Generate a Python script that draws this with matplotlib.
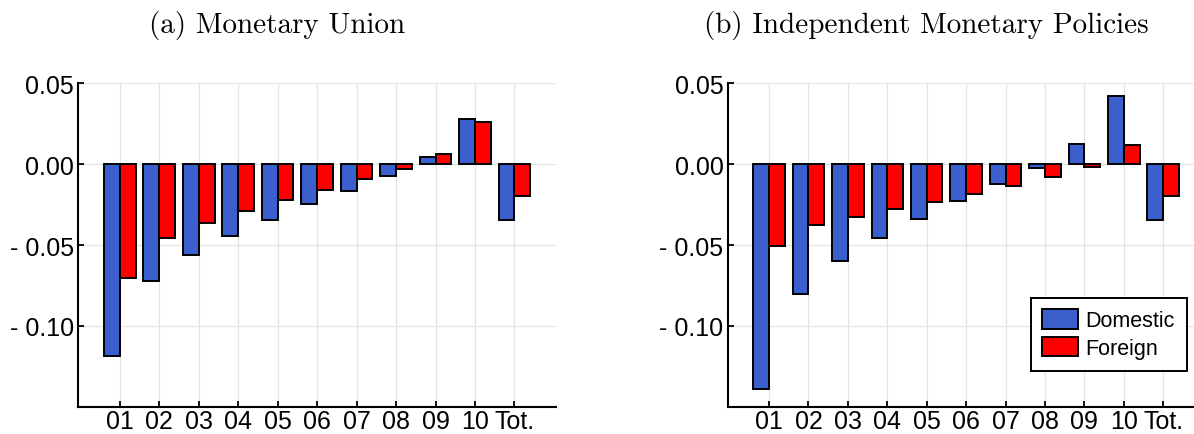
import matplotlib
matplotlib.use("Agg")
import matplotlib.pyplot as plt
import matplotlib.ticker as mticker
import numpy as np

# -------------------- Data --------------------------

DECILES = ["01", "02", "03", "04", "05", "06", "07", "08", "09", "10", "Tot."]

UNION_DOMESTIC = [-0.1189, -0.0725, -0.0561, -0.0443, -0.0342, -0.0248,
                  -0.0164, -0.0074, 0.0043, 0.0279, -0.0342]
UNION_FOREIGN = [-0.0705, -0.0459, -0.0363, -0.0291, -0.0223, -0.0158,
                 -0.0094, -0.0027, 0.0066, 0.0262, -0.0199]

INDEP_DOMESTIC = [-0.1390, -0.0803, -0.0600, -0.0457, -0.0336, -0.0225,
                  -0.0125, -0.0023, 0.0125, 0.0422, -0.0342]
INDEP_FOREIGN = [-0.0508, -0.0377, -0.0326, -0.0277, -0.0232, -0.0182,
                 -0.0133, -0.0078, -0.0018, 0.0117, -0.0199]

Y_TICKS = [0.05, 0.0, -0.05, -0.10]

BLUE = "#3b5fcd"
RED = "#ff0000"

plt.rcParams.update({
    "font.family": ["Liberation Sans", "DejaVu Sans"],
    "xtick.labelsize": 18,
    "ytick.labelsize": 18,
})


def _fmt(v, pos):
    """Signed labels written as '- 0.05'."""
    if abs(v) < 1e-12:
        return "0.00"
    return f"- {abs(v):.2f}" if v < 0 else f"{v:.2f}"


def _panel(ax, domestic, foreign):
    x = np.arange(1, len(DECILES) + 1)
    w = 0.4
    ax.bar(x - w / 2, domestic, width=w, color=BLUE, edgecolor="black",
           linewidth=1.4, label="Domestic", zorder=3)
    ax.bar(x + w / 2, foreign, width=w, color=RED, edgecolor="black",
           linewidth=1.4, label="Foreign", zorder=3)

    ax.set_xlim(-0.05, 12.05)
    ax.set_ylim(-0.15, 0.05)
    ax.set_xticks(x)
    ax.set_xticklabels(DECILES)
    ax.set_yticks(Y_TICKS)
    ax.yaxis.set_major_formatter(mticker.FuncFormatter(_fmt))

    ax.grid(True, color="#e4e4e4", linewidth=0.9, zorder=0)
    ax.set_axisbelow(True)
    for side in ("top", "right"):
        ax.spines[side].set_visible(False)
    for side in ("left", "bottom"):
        ax.spines[side].set_linewidth(1.5)
    ax.tick_params(direction="in", length=4, width=1.3, pad=3)
    ax.tick_params(axis="x", pad=1.5)


fig = plt.figure(figsize=(11.94, 4.35), dpi=100)

ax1 = fig.add_axes([0.0656, 0.0628, 0.400, 0.743])
ax2 = fig.add_axes([0.6094, 0.0628, 0.3995, 0.743])

_panel(ax1, UNION_DOMESTIC, UNION_FOREIGN)
_panel(ax2, INDEP_DOMESTIC, INDEP_FOREIGN)

fig.text(0.2324, 0.942, "(a) Monetary Union", ha="center", va="center",
         fontsize=21, family=["cmr10", "DejaVu Serif"])
fig.text(0.776, 0.942, "(b) Independent Monetary Policies", ha="center",
         va="center", fontsize=21, family=["cmr10", "DejaVu Serif"])

leg = ax2.legend(loc="lower right", bbox_to_anchor=(0.9939, 0.1455),
                 bbox_transform=fig.transFigure,
                 fontsize=15.5, fancybox=False, framealpha=1,
                 edgecolor="black", handlelength=1.65, handleheight=1.0,
                 handletextpad=0.35, labelspacing=0.25, borderpad=0.55,
                 borderaxespad=0)
leg.get_frame().set_linewidth(1.4)

fig.savefig("out.png", dpi=100)
